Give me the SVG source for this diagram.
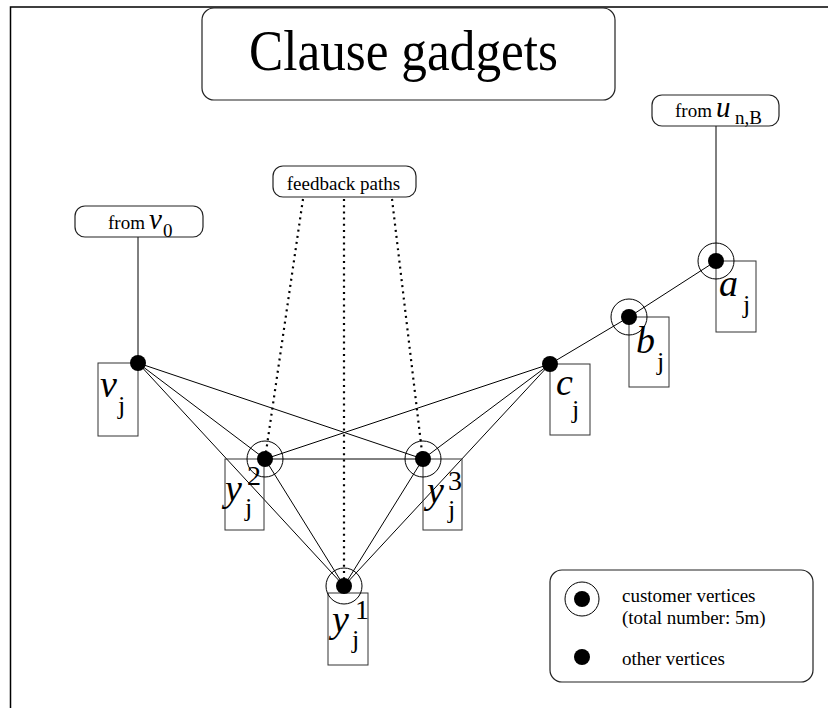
<svg xmlns="http://www.w3.org/2000/svg" width="828" height="708" viewBox="0 0 828 708">
<style>
.frame{stroke:#000;stroke-width:1.5;fill:none}
.box{fill:#fff;stroke:#222;stroke-width:1.2}
.nbox{fill:none;stroke:#333;stroke-width:1}
.edge{stroke:#000;stroke-width:1;fill:none}
.dot-line{stroke:#000;stroke-width:2.2;fill:none;stroke-dasharray:2 4.2}
.dot{fill:#000}
.ring{fill:none;stroke:#000;stroke-width:1}
text{font-family:"Liberation Serif","Times New Roman",serif;fill:#000}
.small{font-size:19px}
.var{font-size:29px;font-style:italic}
.big{font-size:38px;font-style:italic}
.sub{font-size:26px}
.sup{font-size:28px}
</style>
<rect width="828" height="708" fill="#fff"/>
<path class="frame" d="M10.5 708 V7 H828"/>

<g id="connectors">
  <line class="edge" x1="138" y1="237" x2="138" y2="363"/>
  <line class="edge" x1="716" y1="126" x2="716" y2="261"/>
  <line class="edge" x1="138" y1="363" x2="423" y2="459"/>
  <line class="edge" x1="138" y1="363" x2="265" y2="459"/>
  <line class="edge" x1="138" y1="363" x2="344" y2="586"/>
  <line class="edge" x1="550" y1="364" x2="265" y2="459"/>
  <line class="edge" x1="550" y1="364" x2="423" y2="459"/>
  <line class="edge" x1="550" y1="364" x2="344" y2="586"/>
  <line class="edge" x1="550" y1="364" x2="629" y2="317"/>
  <line class="edge" x1="629" y1="317" x2="716" y2="261"/>
  <line class="edge" x1="265" y1="459" x2="423" y2="459"/>
  <line class="edge" x1="265" y1="459" x2="344" y2="586"/>
  <line class="edge" x1="423" y1="459" x2="344" y2="586"/>
  <line class="dot-line" x1="303" y1="199" x2="266" y2="452"/>
  <line class="dot-line" x1="344" y1="199" x2="344" y2="580"/>
  <line class="dot-line" x1="392" y1="199" x2="422" y2="452"/>
</g>

<g id="title">
  <rect class="box" x="202" y="8" width="413" height="92" rx="12"/>
  <text x="249" y="70" font-size="58" textLength="309" lengthAdjust="spacingAndGlyphs">Clause gadgets</text>
</g>

<g id="from-v0">
  <rect class="box" x="75" y="206" width="128" height="31" rx="10"/>
  <text class="small" x="108" y="229">from</text>
  <text class="var" x="149" y="229">v</text>
  <text class="small" x="163" y="237">0</text>
</g>

<g id="from-u">
  <rect class="box" x="652" y="95" width="127" height="31" rx="10"/>
  <text class="small" x="675" y="117">from</text>
  <text class="var" x="716" y="117">u</text>
  <text class="small" x="735" y="124">n,B</text>
</g>

<g id="feedback">
  <rect class="box" x="273" y="166" width="143" height="31" rx="10"/>
  <text class="small" x="343.5" y="190" text-anchor="middle">feedback paths</text>
</g>

<g id="node-v">
  <rect class="nbox" x="98" y="363" width="40" height="73"/>
  <circle class="dot" cx="138" cy="363" r="8"/>
  <text class="big" x="100" y="397">v</text>
  <text class="sub" x="118" y="414">j</text>
</g>

<g id="node-c">
  <rect class="nbox" x="550" y="364" width="40" height="71"/>
  <circle class="dot" cx="550" cy="364" r="8"/>
  <text class="big" x="556" y="395">c</text>
  <text class="sub" x="572" y="418">j</text>
</g>

<g id="node-b">
  <rect class="nbox" x="629" y="317" width="40" height="70"/>
  <circle class="ring" cx="629" cy="317" r="18"/>
  <circle class="dot" cx="629" cy="317" r="8"/>
  <text class="big" x="636" y="353">b</text>
  <text class="sub" x="657" y="370">j</text>
</g>

<g id="node-a">
  <rect class="nbox" x="716" y="261" width="40" height="71"/>
  <circle class="ring" cx="716" cy="261" r="18"/>
  <circle class="dot" cx="716" cy="261" r="8"/>
  <text class="big" x="719" y="296">a</text>
  <text class="sub" x="743" y="313">j</text>
</g>

<g id="node-y2">
  <rect class="nbox" x="225" y="459" width="39" height="71"/>
  <circle class="ring" cx="265" cy="459" r="18"/>
  <circle class="dot" cx="265" cy="459" r="8"/>
  <text class="big" x="225" y="501">y</text>
  <text class="sup" x="247" y="485">2</text>
  <text class="sub" x="245" y="516">j</text>
</g>

<g id="node-y3">
  <rect class="nbox" x="423" y="459" width="39" height="71"/>
  <circle class="ring" cx="423" cy="459" r="18"/>
  <circle class="dot" cx="423" cy="459" r="8"/>
  <text class="big" x="427" y="503">y</text>
  <text class="sup" x="448" y="490">3</text>
  <text class="sub" x="448" y="518">j</text>
</g>

<g id="node-y1">
  <rect class="nbox" x="328" y="593" width="40" height="72"/>
  <circle class="ring" cx="344" cy="586" r="18"/>
  <circle class="dot" cx="344" cy="586" r="8"/>
  <text class="big" x="332" y="632">y</text>
  <text class="sup" x="355" y="619">1</text>
  <text class="sub" x="352" y="648">j</text>
</g>

<g id="legend">
  <rect class="box" x="550" y="570" width="263" height="112" rx="12"/>
  <circle class="ring" cx="582" cy="599" r="17"/>
  <circle class="dot" cx="582" cy="599" r="8"/>
  <text class="small" x="622" y="602">customer vertices</text>
  <text class="small" x="622" y="624">(total number: 5m)</text>
  <circle class="dot" cx="582" cy="657" r="8"/>
  <text class="small" x="622" y="665">other vertices</text>
</g>
</svg>
